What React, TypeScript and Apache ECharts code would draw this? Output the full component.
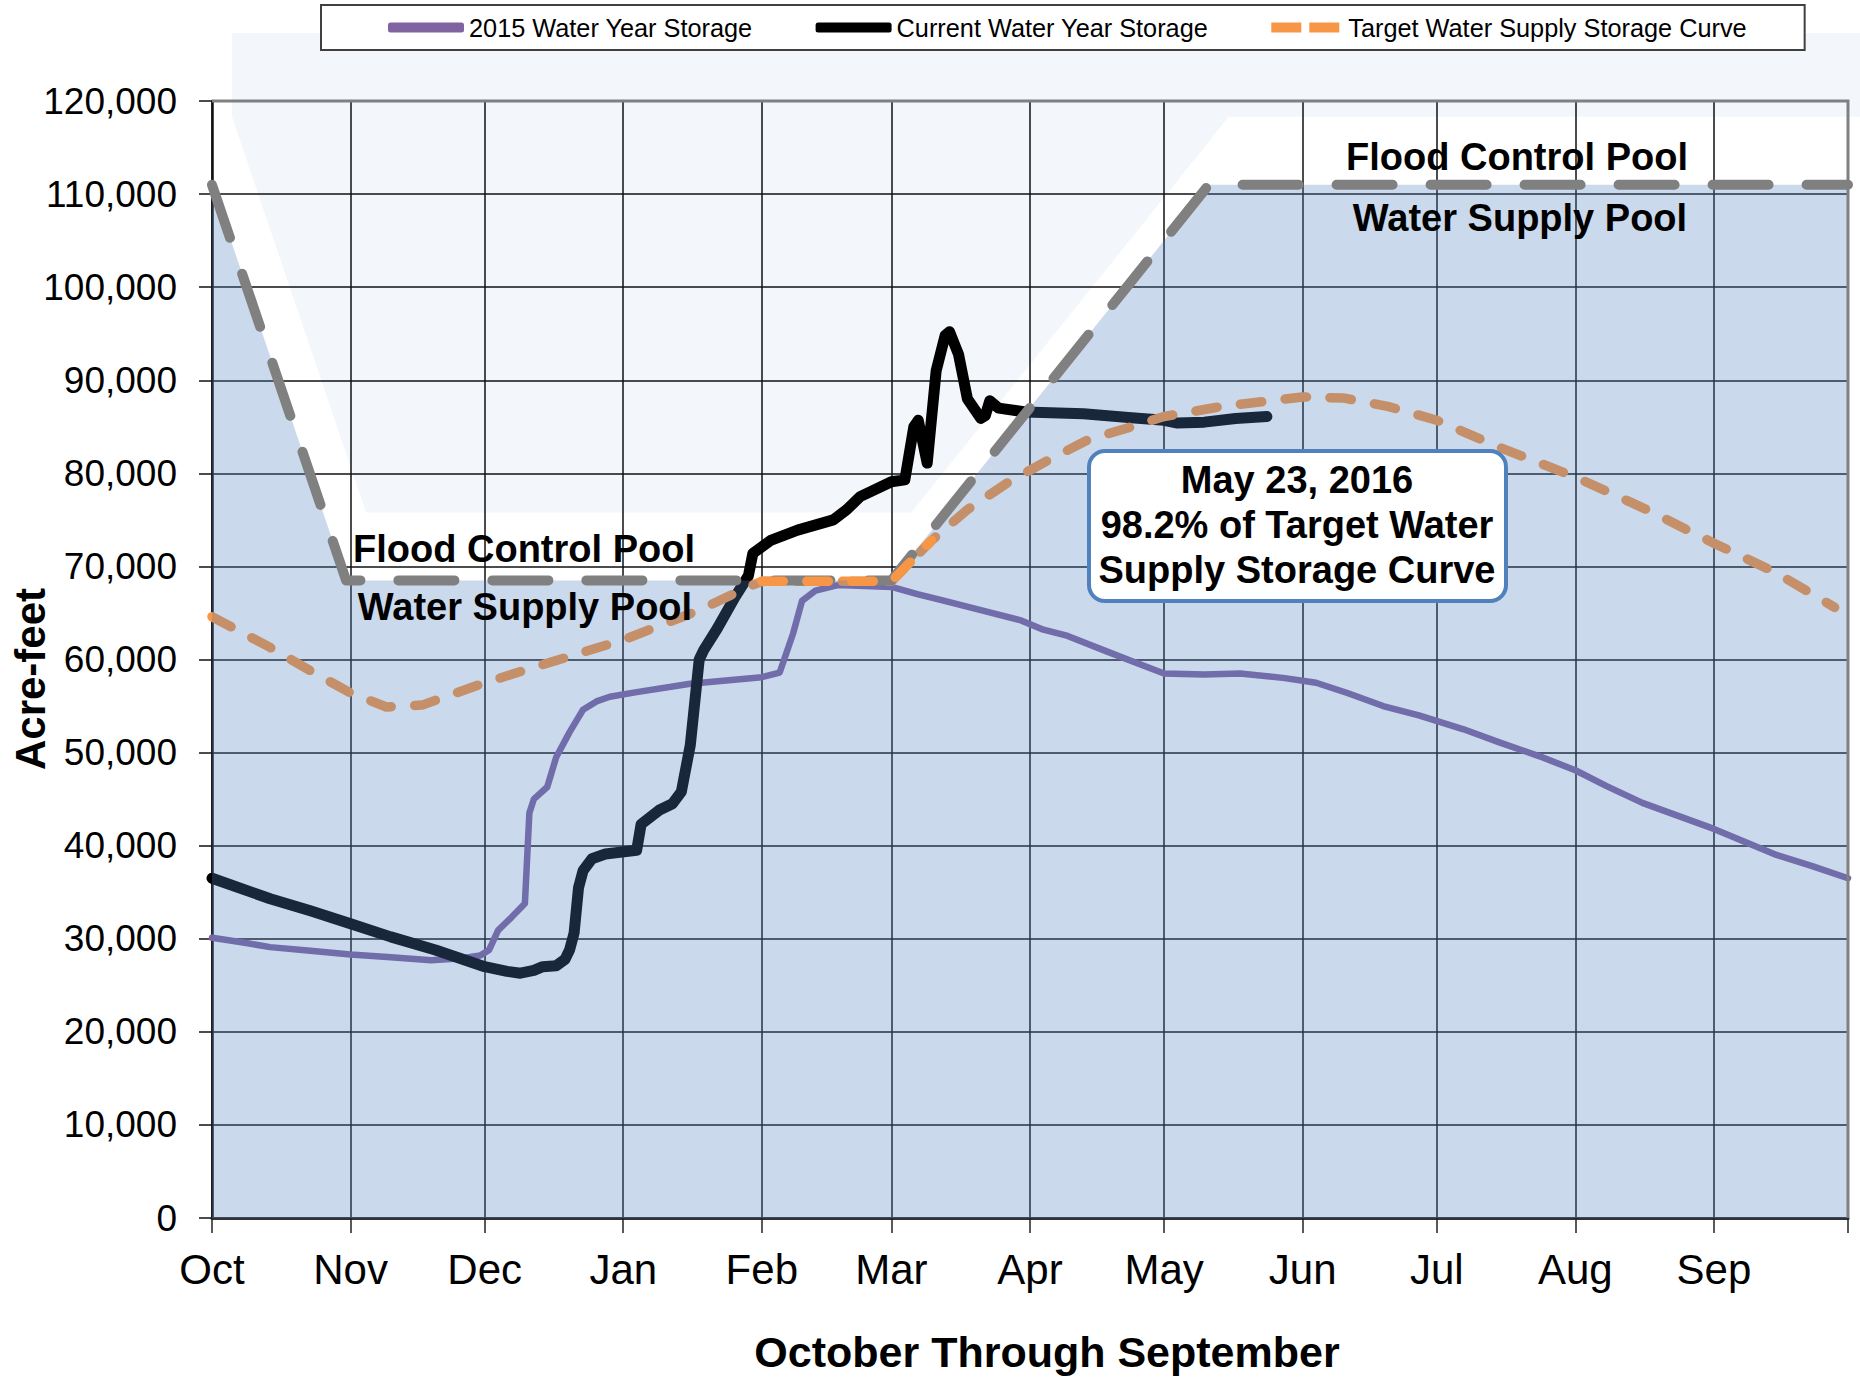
import React, { useEffect, useRef } from 'react';
import * as echarts from 'echarts';

// ---------- data ----------
const monthLabels = ['Oct', 'Nov', 'Dec', 'Jan', 'Feb', 'Mar', 'Apr', 'May', 'Jun', 'Jul', 'Aug', 'Sep'];
const monthStartDays = [0, 31, 61, 92, 123, 152, 183, 213, 244, 274, 305, 336];
const yearEndDay = 366;

const storage2015Days = [0, 7, 13, 22, 31, 40, 49, 56, 60, 62, 64, 67, 70, 71, 72, 75, 77, 80, 83, 86, 89, 95, 107, 123, 127, 130, 132, 135, 140, 152, 158, 163, 172, 181, 186, 191, 200, 207, 213, 222, 230, 240, 247, 254, 262, 270, 280, 288, 297, 305, 312, 320, 328, 336, 343, 350, 358, 366];
const storage2015Values = [30100, 29600, 29100, 28700, 28300, 28000, 27700, 27900, 28200, 28800, 30900, 32300, 33800, 43500, 45000, 46300, 49500, 52200, 54600, 55500, 56000, 56500, 57400, 58100, 58600, 62800, 66300, 67400, 68000, 67800, 67000, 66400, 65300, 64200, 63200, 62600, 60900, 59600, 58500, 58400, 58500, 58000, 57500, 56400, 55000, 54000, 52500, 51100, 49600, 48100, 46400, 44600, 43200, 41800, 40400, 39000, 37800, 36500];

const currentDays = [0, 13, 22, 31, 40, 50, 61, 66, 69, 72, 74, 77, 79, 80, 81, 82, 83, 85, 88, 95, 96, 100, 103, 105, 107, 109, 110, 113, 117, 120, 121, 125, 131, 139, 142, 145, 152, 155, 157, 158, 160, 162, 164, 165, 167, 169, 172, 173, 174, 176, 182, 195, 205, 213, 216, 222, 229, 236];
const currentValues = [36500, 34300, 33000, 31600, 30200, 28800, 27000, 26500, 26300, 26600, 27000, 27100, 27800, 28800, 30600, 35500, 37300, 38600, 39100, 39500, 42300, 43800, 44500, 45800, 50800, 60000, 61000, 63300, 66700, 69000, 71400, 72800, 73900, 75000, 76100, 77500, 79100, 79300, 85000, 85700, 81100, 91000, 94800, 95200, 92800, 88000, 85900, 86200, 87800, 87000, 86600, 86400, 86000, 85700, 85400, 85500, 85900, 86100];

const targetDays = [0, 13, 22, 31, 39, 47, 61, 77, 92, 109, 120, 123, 152, 161, 169, 178, 187, 196, 205, 213, 226, 244, 253, 263, 274, 288, 305, 321, 336, 350, 363];
const targetValues = [64600, 61300, 58800, 56400, 54900, 55100, 57500, 59900, 62100, 65300, 67800, 68400, 68400, 72800, 76100, 79000, 81400, 83600, 84900, 86100, 87200, 88200, 88100, 87200, 85700, 82800, 79600, 76100, 72500, 69300, 65600];

const floodDays = [0, 30, 152, 223, 366];
const floodValues = [111000, 68500, 68500, 111000, 111000];

const calloutLines = ['May 23, 2016', '98.2% of Target Water', 'Supply Storage Curve'];
const poolLabels = ['Flood Control Pool', 'Water Supply Pool'];
const xAxisTitle = 'October Through September';
const yAxisTitle = 'Acre-feet';

const S2015 = '2015 Water Year Storage';
const SCUR = 'Current Water Year Storage';
const STGT = 'Target Water Supply Storage Curve';

// ---------- helpers ----------
const zip = (d: number[], v: number[]) => d.map((x, i) => [x, v[i]]);
const dayCategories = Array.from({ length: yearEndDay + 1 }, (_, i) => String(i));
const tickDays = [...monthStartDays, yearEndDay];

const FONT = '"Liberation Sans", Arial, sans-serif';
const PURPLE = '#8064A2';
const BLACK = '#000000';
const ORANGE = '#F79646';
const GRAY = '#808080';
const GRID = '#111111';

const ORANGE_STYLE = { color: ORANGE, width: 9.5, type: [21.5, 23.5], cap: 'round', join: 'round' };

export default function App() {
  const ref = useRef<HTMLDivElement>(null);

  useEffect(() => {
    document.body.style.margin = '0';
    const chart = echarts.init(ref.current as HTMLDivElement, null, { renderer: 'svg' });

    const option: any = {
      animation: false,
      backgroundColor: 'transparent',
      grid: { left: 212, right: 12, top: 101, bottom: 159, containLabel: false },
      legend: {
        left: 321,
        top: 5,
        padding: [10, 58, 10, 67],
        itemGap: 63,
        itemWidth: 76,
        itemHeight: 10,
        borderColor: '#404040',
        borderWidth: 2,
        backgroundColor: '#ffffff',
        itemStyle: { borderWidth: 0 },
        textStyle: { fontSize: 25.3, fontFamily: FONT, color: '#000' },
        data: [
          { name: S2015, icon: 'roundRect' },
          { name: SCUR, icon: 'roundRect' },
          { name: STGT, icon: 'path://M0,0H30V10H0Z M38,0H68V10H38Z' },
        ],
      },
      xAxis: {
        type: 'category',
        data: dayCategories,
        boundaryGap: false,
        axisLine: { lineStyle: { color: '#333', width: 3 } },
        axisTick: {
          show: true,
          interval: (i: number) => tickDays.includes(i),
          length: 15,
          lineStyle: { color: '#222', width: 1.5 },
        },
        axisLabel: {
          interval: (i: number) => monthStartDays.includes(i),
          formatter: (v: string) => {
            const k = monthStartDays.indexOf(Number(v));
            return k >= 0 ? monthLabels[k] : '';
          },
          fontSize: 42,
          fontFamily: FONT,
          color: '#000',
          margin: 30,
        },
        splitLine: {
          show: true,
          interval: (i: number) => tickDays.includes(i),
          lineStyle: { color: GRID, width: 1.5 },
        },
      },
      yAxis: {
        type: 'value',
        min: 0,
        max: 120000,
        interval: 10000,
        axisLine: { show: true, lineStyle: { color: GRID, width: 2.5 } },
        axisTick: { show: true, length: 13, lineStyle: { color: GRID, width: 1.5 } },
        axisLabel: {
          fontSize: 37,
          fontFamily: FONT,
          color: '#000',
          margin: 35,
          formatter: (v: number) => v.toLocaleString('en-US'),
        },
        splitLine: { show: true, lineStyle: { color: GRID, width: 1.5 } },
      },
      series: [
        {
          name: S2015,
          type: 'line',
          data: zip(storage2015Days, storage2015Values),
          symbol: 'none',
          z: 2,
          color: PURPLE,
          lineStyle: { color: PURPLE, width: 6.5, cap: 'round', join: 'round' },
        },
        {
          name: SCUR,
          type: 'line',
          data: zip(currentDays, currentValues),
          symbol: 'none',
          z: 3,
          color: BLACK,
          lineStyle: { color: BLACK, width: 11, cap: 'round', join: 'round' },
        },
        {
          name: STGT,
          type: 'line',
          data: zip(targetDays, targetValues),
          symbol: 'none',
          z: 4,
          color: ORANGE,
          lineStyle: ORANGE_STYLE,
        },
        {
          name: 'Water Supply Pool area',
          type: 'line',
          data: zip(floodDays, floodValues),
          symbol: 'none',
          z: 5,
          silent: true,
          lineStyle: { opacity: 0, width: 0 },
          areaStyle: { color: 'rgba(79,129,189,0.3)', opacity: 1 },
        },
        {
          name: 'Flood Control Curve',
          type: 'line',
          data: zip(floodDays, floodValues),
          symbol: 'none',
          z: 6,
          color: GRAY,
          lineStyle: { color: GRAY, width: 10, type: [56, 38], cap: 'round', join: 'round' },
        },
        {
          name: 'Target overlay',
          type: 'line',
          data: zip(targetDays, targetValues).filter((p) => p[0] >= 123 && p[0] <= 161),
          symbol: 'none',
          z: 7,
          color: ORANGE,
          lineStyle: ORANGE_STYLE,
        },
      ],
    };

    chart.setOption(option);

    const px = (d: number, v: number) =>
      chart.convertToPixel({ xAxisIndex: 0, yAxisIndex: 0 }, [d, v]) as number[];

    const SH_DX = 20;
    const SH_DY = -68;
    const poolPoly = [
      px(0, 120000),
      ...floodDays.map((d, i) => px(d, floodValues[i])),
      px(yearEndDay, 120000),
    ].map((p) => [p[0] + SH_DX, p[1] + SH_DY]);

    const tl = px(0, 120000);
    const tr = px(yearEndDay, 120000);
    const br = px(yearEndDay, 0);

    const txt = (x: number, y: number, text: string, size: number, extra: any = {}) => ({
      type: 'text',
      x,
      y,
      z: 12,
      silent: true,
      ...extra,
      style: {
        text,
        font: `bold ${size}px ${FONT}`,
        fill: '#000',
        align: 'center',
        verticalAlign: 'middle',
        textAlign: 'center',
        textVerticalAlign: 'middle',
      },
    });

    chart.setOption({
      graphic: [
        { type: 'polygon', z: -1, silent: true, shape: { points: poolPoly }, style: { fill: '#f3f6fa' } },
        {
          type: 'polyline',
          z: 10,
          silent: true,
          shape: { points: [tl, tr, br] },
          style: { stroke: GRAY, lineWidth: 3, fill: null },
        },
        txt(1517, 157, poolLabels[0], 38),
        txt(1520, 218, poolLabels[1], 38),
        txt(524, 549, poolLabels[0], 38),
        txt(525, 607, poolLabels[1], 38),
        {
          type: 'rect',
          z: 20,
          silent: true,
          shape: { x: 1089, y: 451, width: 417, height: 150, r: 16 },
          style: { fill: '#ffffff', stroke: '#4F81BD', lineWidth: 4 },
        },
        {
          type: 'text',
          x: 1297,
          y: 525,
          z: 21,
          silent: true,
          style: {
            text: calloutLines.join('\n'),
            font: `bold 38px ${FONT}`,
            lineHeight: 45,
            fill: '#000',
            align: 'center',
            verticalAlign: 'middle',
            textAlign: 'center',
            textVerticalAlign: 'middle',
          },
        },
        txt(30, 679, yAxisTitle, 42, { rotation: Math.PI / 2 }),
        txt(1047, 1352, xAxisTitle, 43),
      ],
    });

    return () => chart.dispose();
  }, []);

  return <div ref={ref} style={{ width: 1860, height: 1377 }} />;
}
